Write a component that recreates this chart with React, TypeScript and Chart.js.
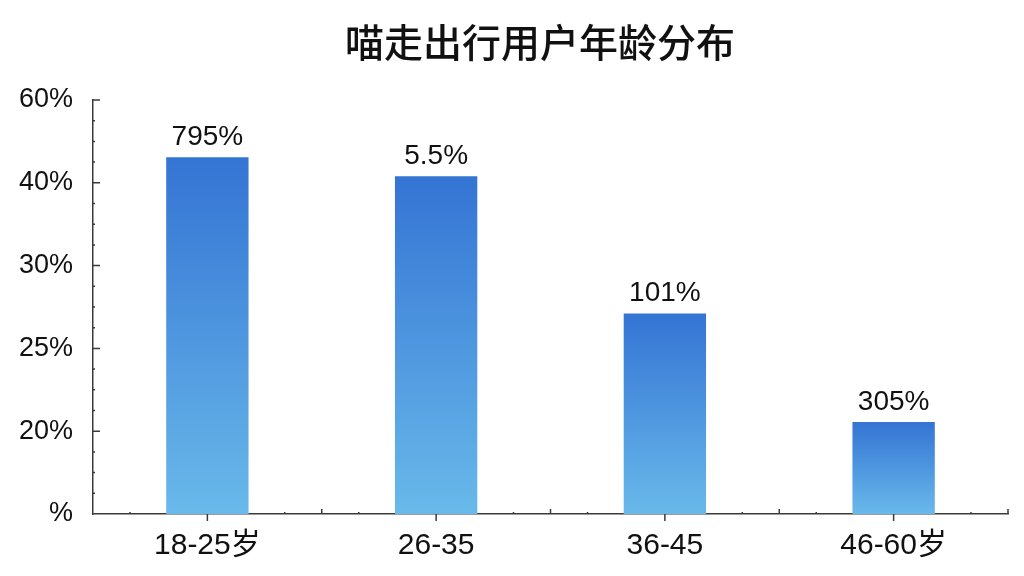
import React, { useEffect, useRef } from "react";
import { Chart, registerables } from "chart.js";

Chart.register(...registerables);

const title = "喵走出行用户年龄分布";
const categories = ["18-25岁", "26-35", "36-45", "46-60岁"];
// bar heights in axis steps (one step per tick label)
const values = [4.31, 4.08, 2.42, 1.11];
const valueLabels = ["795%", "5.5%", "101%", "305%"];
const yTickLabels = ["%", "20%", "25%", "30%", "40%", "60%"];

const FONT = "'Liberation Sans', Arial, 'Noto Sans CJK SC', sans-serif";
const AXIS = "#3a3a3a";

const extras = {
  id: "extras",
  afterDraw(chart: any) {
    const { ctx, chartArea, scales } = chart;
    const x = scales.x;
    const y = scales.y;
    ctx.save();

    // title
    ctx.fillStyle = "#111";
    ctx.font = "500 39px 'Noto Sans CJK SC', sans-serif";
    ctx.textAlign = "center";
    ctx.textBaseline = "middle";
    ctx.fillText(title, 540, 42);

    // value labels
    ctx.font = `28px ${FONT}`;
    ctx.textBaseline = "bottom";
    const meta = chart.getDatasetMeta(0);
    meta.data.forEach((bar: any, i: number) => {
      ctx.fillText(valueLabels[i], bar.x, bar.y - 6);
    });

    ctx.strokeStyle = AXIS;
    ctx.lineWidth = 1.5;
    ctx.beginPath();
    // y major ticks (inward) and minor marks
    for (let v = 0; v <= yTickLabels.length - 1; v++) {
      const py = y.getPixelForValue(v);
      if (v > 0) {
        ctx.moveTo(chartArea.left, py);
        ctx.lineTo(chartArea.left + 7, py);
      }
      if (v < yTickLabels.length - 1) {
        for (let k = 1; k < 4; k++) {
          const my = y.getPixelForValue(v + k / 4);
          ctx.moveTo(chartArea.left, my);
          ctx.lineTo(chartArea.left + 2, my);
        }
      }
    }
    // x ticks: down at centres, up at boundaries, minor marks around boundaries
    const step = (chartArea.right - chartArea.left) / categories.length;
    const bottom = chartArea.bottom;
    categories.forEach((_, i) => {
      const cx = x.getPixelForValue(i);
      ctx.moveTo(cx, bottom);
      ctx.lineTo(cx, bottom + 7);
    });
    for (let i = 0; i <= categories.length; i++) {
      const bx = chartArea.left + step * i;
      if (i > 0) {
        ctx.moveTo(bx, bottom);
        ctx.lineTo(bx, bottom - 5);
      }
      [-37, 37].forEach((d) => {
        const mx = bx + d;
        if (mx > chartArea.left && mx < chartArea.right) {
          ctx.moveTo(mx, bottom);
          ctx.lineTo(mx, bottom - 2);
        }
      });
    }
    ctx.stroke();
    ctx.restore();
  },
};

const App: React.FC = () => {
  const canvasRef = useRef<HTMLCanvasElement | null>(null);

  useEffect(() => {
    document.body.style.margin = "0";
    if (!canvasRef.current) return;
    const ctx = canvasRef.current.getContext("2d");
    if (!ctx) return;

    const chart = new Chart(ctx, {
      type: "bar",
      data: {
        labels: categories,
        datasets: [
          {
            data: values,
            backgroundColor: (c: any) => {
              const ch = c.chart;
              if (!ch.chartArea) return "#4a90dd";
              const top = ch.scales.y.getPixelForValue(c.raw);
              const base = ch.scales.y.getPixelForValue(0);
              const g = ch.ctx.createLinearGradient(0, top, 0, base);
              g.addColorStop(0, "#3474d4");
              g.addColorStop(1, "#69b9ea");
              return g;
            },
            barPercentage: 0.36,
            categoryPercentage: 1,
          },
        ],
      },
      options: {
        animation: false,
        responsive: true,
        maintainAspectRatio: false,
        layout: { padding: { top: 100, right: 16, left: 0, bottom: 0 } },
        plugins: {
          legend: { display: false },
          tooltip: { enabled: false },
        },
        scales: {
          x: {
            grid: { display: false },
            border: { color: AXIS, width: 1.5 },
            ticks: {
              color: "#111",
              font: { family: FONT, size: 30 },
              padding: 6,
            },
            afterFit: (s: any) => {
              s.height = 62;
            },
          },
          y: {
            min: 0,
            max: yTickLabels.length - 1,
            grid: { display: false },
            border: { color: AXIS, width: 1.5 },
            ticks: {
              stepSize: 1,
              color: "#111",
              font: { family: FONT, size: 27 },
              padding: 12,
              callback: (v: any) => yTickLabels[Number(v)] ?? "",
            },
            afterFit: (s: any) => {
              s.width = 93;
            },
          },
        },
      },
      plugins: [extras],
    });

    return () => chart.destroy();
  }, []);

  return (
    <div style={{ width: 1024, height: 576, position: "relative", background: "#fff" }}>
      <canvas ref={canvasRef}></canvas>
    </div>
  );
};

export default App;
